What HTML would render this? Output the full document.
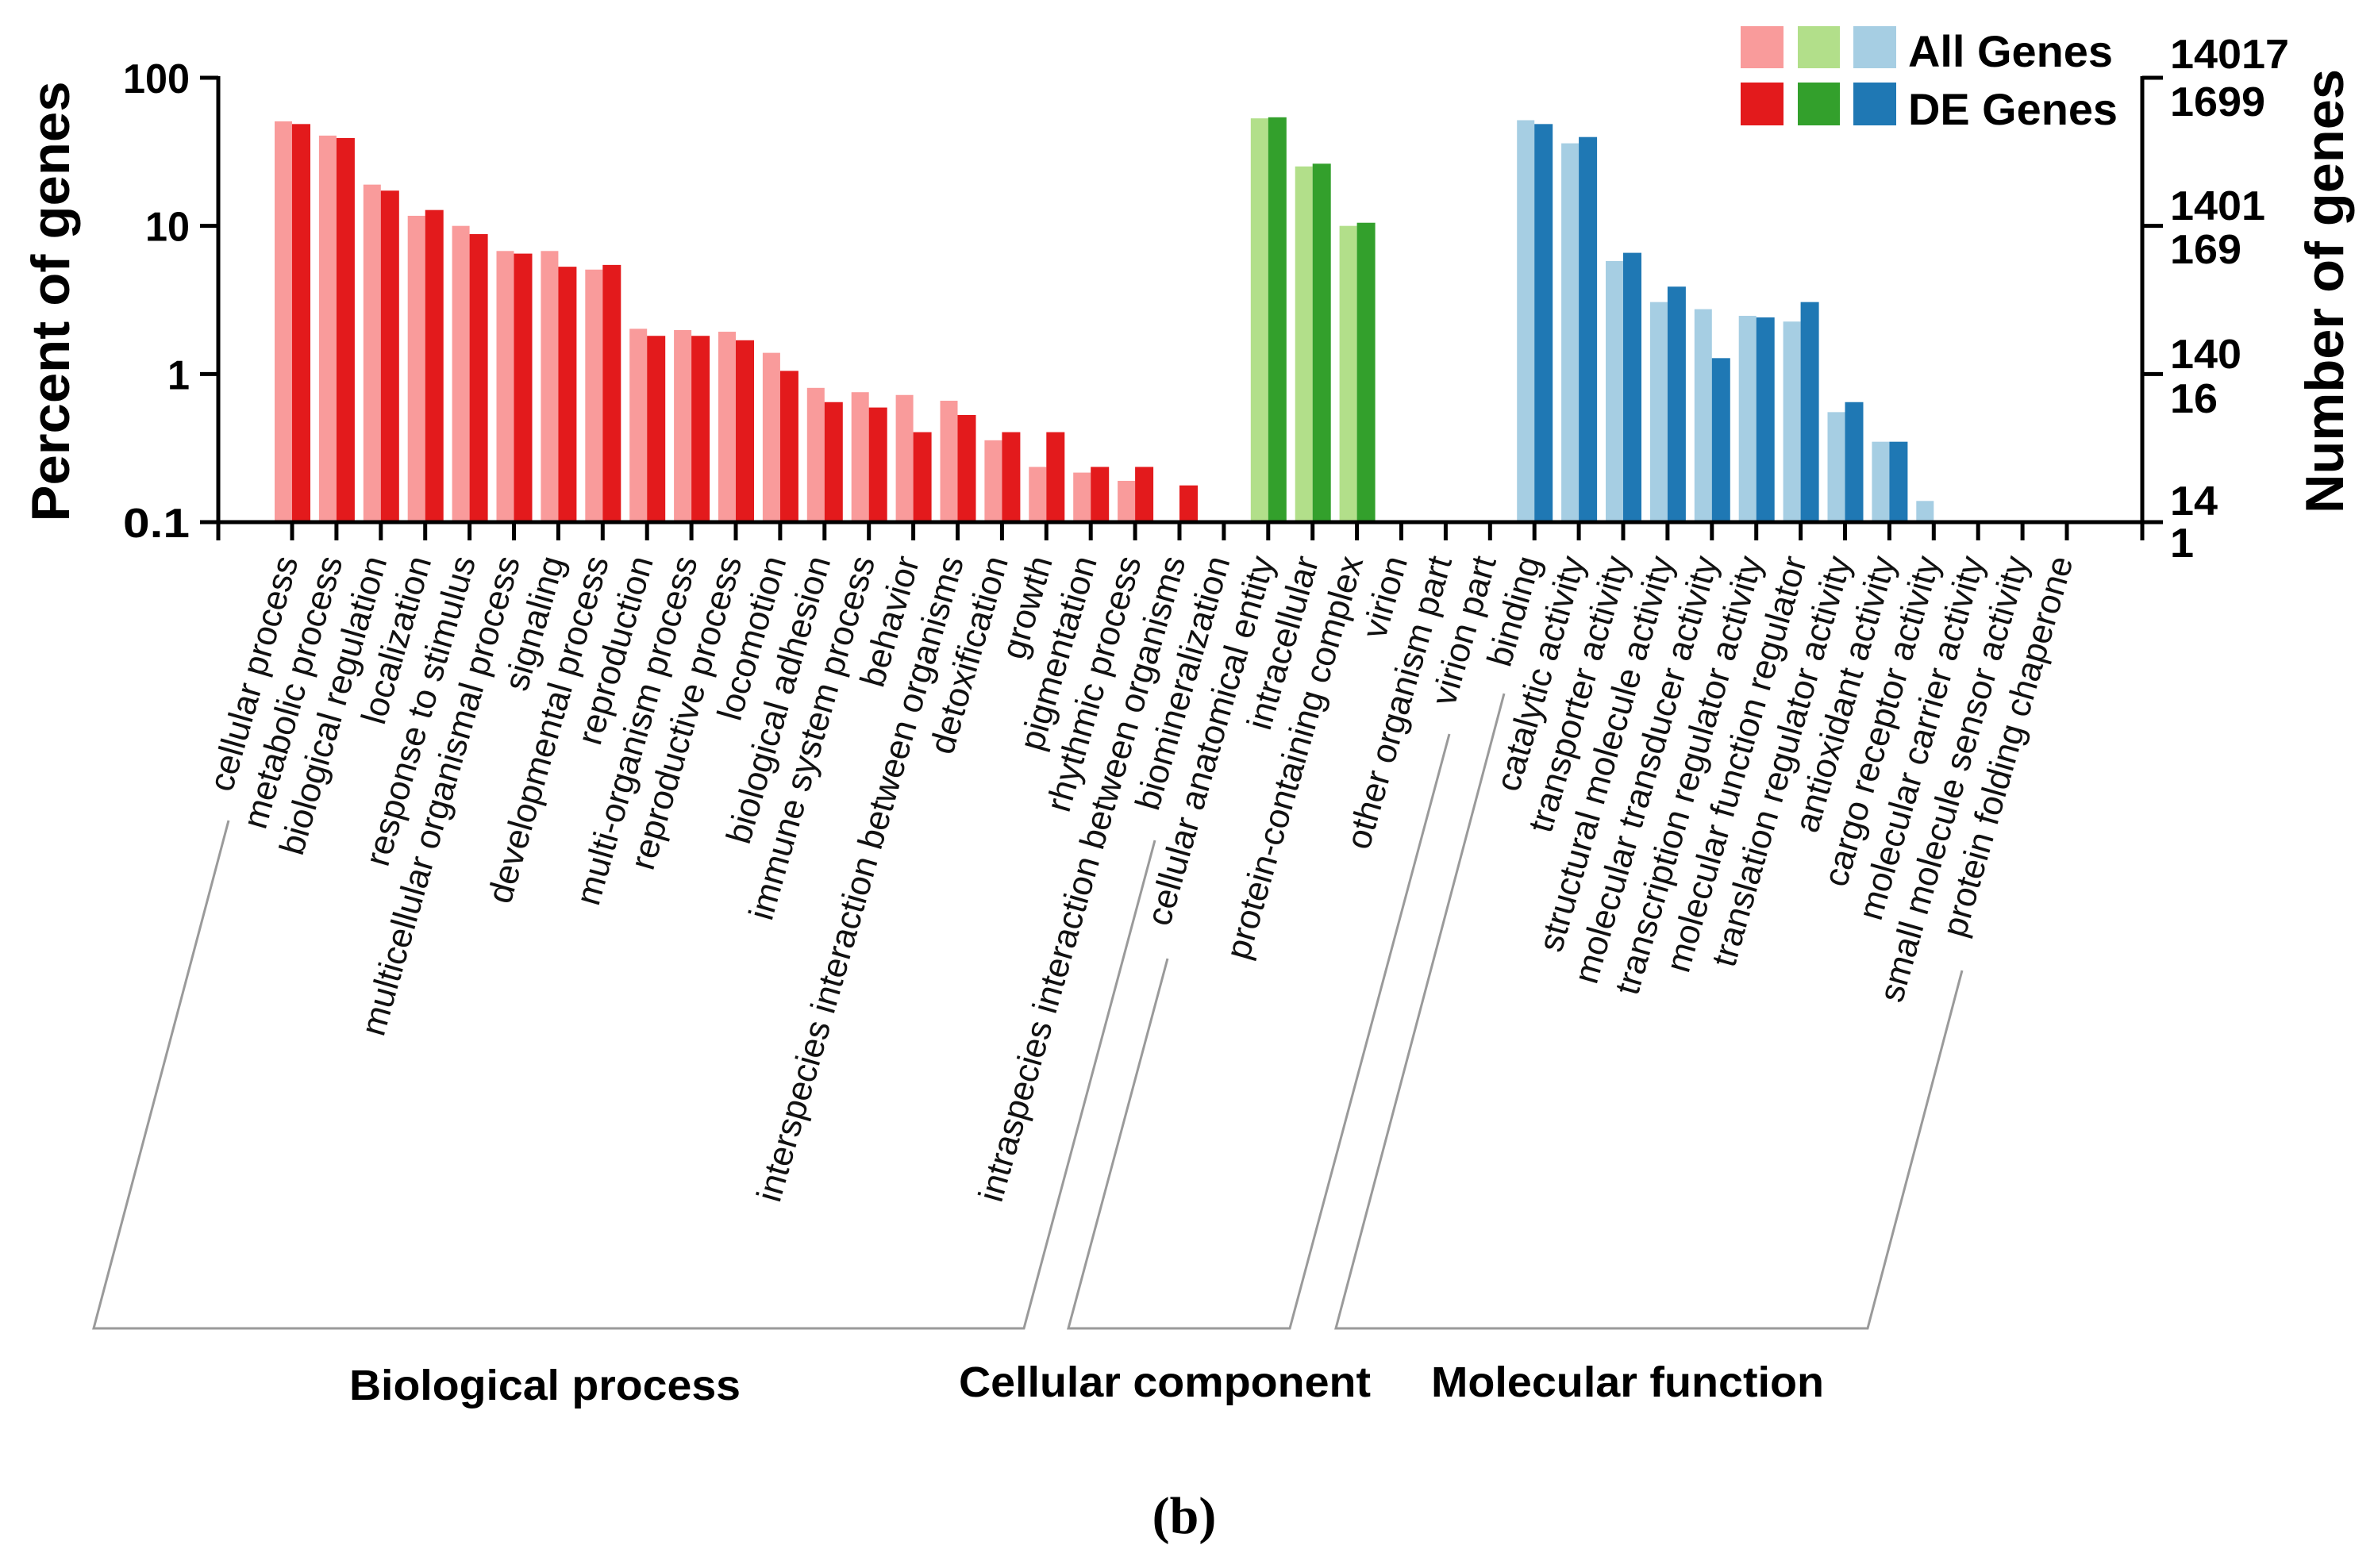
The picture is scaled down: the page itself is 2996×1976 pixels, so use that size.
<!DOCTYPE html>
<html><head><meta charset="utf-8"><style>
html,body{margin:0;padding:0;background:#fff;}
svg{display:block;font-family:"Liberation Sans",Arial,sans-serif;}
</style></head><body>
<svg id="chart" width="2996" height="1976" viewBox="0 0 2996 1976" xmlns="http://www.w3.org/2000/svg">
<g id="bars"></g>
<g id="axes"></g>
<g id="labels"></g>
<g id="brackets" stroke="#9a9a9a" stroke-width="3" fill="none">
<polyline points="288,1034 118,1674 1290,1674 1455,1059"/>
<polyline points="1471,1208 1346,1674 1625,1674 1826,925"/>
<polyline points="1895,874 1683,1674 2353,1674 2472,1223"/>
</g>
<text x="440" y="1764" font-size="54" font-weight="bold" textLength="493" lengthAdjust="spacingAndGlyphs">Biological process</text>
<text x="1208" y="1760" font-size="54" font-weight="bold" textLength="519" lengthAdjust="spacingAndGlyphs">Cellular component</text>
<text x="1803" y="1760" font-size="54" font-weight="bold" textLength="495" lengthAdjust="spacingAndGlyphs">Molecular function</text>
<text x="1492" y="1932" font-size="66" font-weight="bold" text-anchor="middle" font-family="Liberation Serif, serif">(b)</text>
<text transform="translate(87,380) rotate(-90)" font-size="68" font-weight="bold" text-anchor="middle" textLength="555" lengthAdjust="spacingAndGlyphs">Percent of genes</text>
<text transform="translate(2952,367) rotate(-90)" font-size="68" font-weight="bold" text-anchor="middle" textLength="560" lengthAdjust="spacingAndGlyphs">Number of genes</text>
<g>
<rect x="2193" y="33" width="54" height="53" fill="#F99B9B"/>
<rect x="2265" y="33" width="53" height="53" fill="#B2DF8A"/>
<rect x="2335" y="33" width="54" height="53" fill="#A6CEE3"/>
<rect x="2193" y="104" width="54" height="54" fill="#E31A1C"/>
<rect x="2265" y="104" width="53" height="54" fill="#33A02C"/>
<rect x="2335" y="104" width="54" height="54" fill="#1F78B4"/>
<text x="2404" y="84" font-size="56" font-weight="bold" textLength="258" lengthAdjust="spacingAndGlyphs">All Genes</text>
<text x="2404" y="157" font-size="56" font-weight="bold" textLength="264" lengthAdjust="spacingAndGlyphs">DE Genes</text>
</g>
</svg>
<script>
const categories = ["cellular process","metabolic process","biological regulation","localization","response to stimulus","multicellular organismal process","signaling","developmental process","reproduction","multi-organism process","reproductive process","locomotion","biological adhesion","immune system process","behavior","interspecies interaction between organisms","detoxification","growth","pigmentation","rhythmic process","intraspecies interaction between organisms","biomineralization","cellular anatomical entity","intracellular","protein-containing complex","virion","other organism part","virion part","binding","catalytic activity","transporter activity","structural molecule activity","molecular transducer activity","transcription regulator activity","molecular function regulator","translation regulator activity","antioxidant activity","cargo receptor activity","molecular carrier activity","small molecule sensor activity","protein folding chaperone"];
const groups = ["BP","BP","BP","BP","BP","BP","BP","BP","BP","BP","BP","BP","BP","BP","BP","BP","BP","BP","BP","BP","BP","BP","CC","CC","CC","CC","CC","CC","MF","MF","MF","MF","MF","MF","MF","MF","MF","MF","MF","MF","MF"];
const allGenes = [50.8,40.7,19.0,11.7,10.0,6.77,6.77,5.07,2.02,1.98,1.93,1.39,0.806,0.754,0.722,0.66,0.357,0.236,0.216,0.19,0,0,53.2,25.2,10.0,0,0,0,51.7,36.1,5.79,3.06,2.74,2.47,2.26,0.553,0.349,0.139,0,0,0];
const deGenes = [48.7,39.2,17.3,12.8,8.8,6.5,5.3,5.45,1.81,1.81,1.69,1.05,0.646,0.594,0.405,0.529,0.405,0.405,0.236,0.236,0.177,0,54.1,26.3,10.5,0,0,0,48.7,39.8,6.58,3.89,1.28,2.41,3.06,0.646,0.349,0,0,0,0];
const leftTicks = [100,10,1,0.1];
const leftTickLabels = ["100","10","1","0.1"];
const rightTickLabels = ["14017","1699","1401","169","140","16","14","1"];

const NS = "http://www.w3.org/2000/svg";
const X0 = 368, STEP = 55.9;
const Y_TOP = 98, Y_BOT = 658, DEC = (Y_BOT - Y_TOP) / 3;
function xScale(i){ return X0 + i * STEP; }
function yScale(v){ return Y_BOT - DEC * (Math.log10(v) + 1); }
const lightCol = {BP:"#F99B9B",CC:"#B2DF8A",MF:"#A6CEE3"};
const darkCol = {BP:"#E31A1C",CC:"#33A02C",MF:"#1F78B4"};
function mk(tag, attrs, parent){ const e=document.createElementNS(NS,tag); for(const k in attrs) e.setAttribute(k,attrs[k]); parent.appendChild(e); return e; }

const bars = document.getElementById("bars");
categories.forEach((c,i)=>{
  const cx = xScale(i);
  if (allGenes[i] > 0) {
    const y = yScale(allGenes[i]);
    const r = mk("rect",{x:cx-22,y:y,width:22,height:Y_BOT-y,fill:lightCol[groups[i]]},bars);
    
    
  }
  if (deGenes[i] > 0) {
    const y = yScale(deGenes[i]);
    const r = mk("rect",{x:cx,y:y,width:23,height:Y_BOT-y,fill:darkCol[groups[i]]},bars);
    
    
  }
});

const axes = document.getElementById("axes");
const XL = 275, XR = 2699;
let a = mk("line",{x1:XL,y1:Y_TOP-2,x2:XL,y2:Y_BOT+23,stroke:"#000","stroke-width":5},axes);


a = mk("line",{x1:XR,y1:Y_TOP-2,x2:XR,y2:Y_BOT+23,stroke:"#000","stroke-width":5},axes);


a = mk("line",{x1:XL,y1:Y_BOT,x2:XR,y2:Y_BOT,stroke:"#000","stroke-width":5},axes);


leftTicks.forEach((v,k)=>{
  const y = yScale(v);
  const t = mk("line",{x1:XL-23,y1:y,x2:XL,y2:y,stroke:"#000","stroke-width":5},axes);
  
  
  const r = mk("line",{x1:XR,y1:y,x2:XR+26,y2:y,stroke:"#000","stroke-width":5},axes);
  
  
  const s = leftTickLabels[k];
  const tx = mk("text",{x:239,y:y+19,"font-size":52,"font-weight":"bold","text-anchor":"end",textLength:s.length*28,lengthAdjust:"spacingAndGlyphs"},axes);
  tx.textContent = s;
  
  
});
const rightLabelY = [86,146,277,332,464,520,649,702];
rightTickLabels.forEach((s,k)=>{
  const tx = mk("text",{x:2734,y:rightLabelY[k],"font-size":52,"font-weight":"bold",textLength:s.length*30,lengthAdjust:"spacingAndGlyphs"},axes);
  tx.textContent = s;
  
  
});
categories.forEach((c,i)=>{
  const t = mk("line",{x1:xScale(i),y1:Y_BOT,x2:xScale(i),y2:Y_BOT+23,stroke:"#000","stroke-width":5},axes);
  
  
});

const labels = document.getElementById("labels");
categories.forEach((c,i)=>{
  const x = xScale(i) + 8, y = 706;
  const tx = mk("text",{transform:`translate(${x},${y}) rotate(-74)`,"font-size":44,"text-anchor":"end",fill:"#111"},labels);
  tx.textContent = c;
  
  
});
</script>
</body></html>
